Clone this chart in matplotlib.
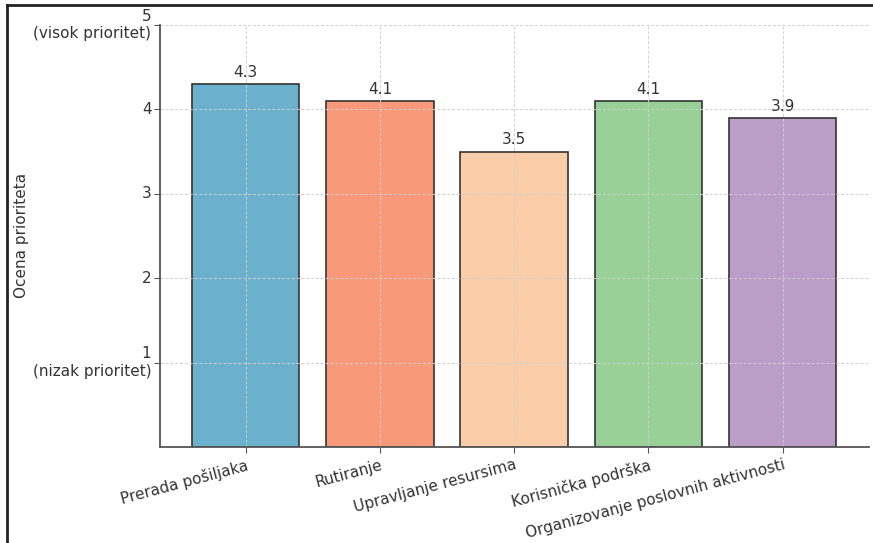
import matplotlib.pyplot as plt
from matplotlib.lines import Line2D

categories = ['Prerada pošiljaka', 'Rutiranje', 'Upravljanje resursima',
              'Korisnička podrška', 'Organizovanje poslovnih aktivnosti']
scores = [4.3, 4.1, 3.5, 4.1, 3.9]
colors = ['#6bb1cd', '#f89a7a', '#fbcda9', '#98d098', '#bc9cc9']
ytick_values = [1, 2, 3, 4, 5]
ytick_labels = ['1\n(nizak prioritet)', '2', '3', '4', '5\n(visok prioritet)']

text_color = '#333333'
plt.rcParams['font.size'] = 11
plt.rcParams['text.color'] = text_color
plt.rcParams['axes.labelcolor'] = text_color
plt.rcParams['xtick.color'] = text_color
plt.rcParams['ytick.color'] = text_color

fig = plt.figure(figsize=(8.73, 5.43), dpi=100)
ax = fig.add_axes([0.183, 0.177, 0.812, 0.777])

bars = ax.bar(categories, scores, width=0.8, color=colors,
              edgecolor='#333333', linewidth=1.2, zorder=1)
for bar, val in zip(bars, scores):
    ax.text(bar.get_x() + bar.get_width() / 2, val + 0.05, f'{val}',
            ha='center', va='bottom', fontsize=11, color=text_color, zorder=3)

ax.set_ylim(0, 5)
ax.set_yticks(ytick_values)
ax.set_yticklabels(ytick_labels, ha='right', va='center', multialignment='right')
ax.set_ylabel('Ocena prioriteta', fontsize=11)
ax.yaxis.set_label_coords(-0.185, 0.5)

plt.setp(ax.get_xticklabels(), rotation=15, ha='right', rotation_mode='anchor')

ax.grid(True, linestyle=(0, (3, 2)), color='#d0d0d0', linewidth=0.7, zorder=2)
ax.set_axisbelow(False)
for s in ['top', 'right']:
    ax.spines[s].set_visible(False)
for s in ['left', 'bottom']:
    ax.spines[s].set_color('#555555')
    ax.spines[s].set_linewidth(1.3)
    ax.spines[s].set_zorder(4)
ax.tick_params(axis='both', length=4, color='#555555')
ax.tick_params(axis='y', pad=2)

# outer frame on left and top edges
fig.add_artist(Line2D([0.008, 0.008], [0, 0.99], transform=fig.transFigure,
                      color='#222222', linewidth=2))
fig.add_artist(Line2D([0.008, 1.0], [0.99, 0.99], transform=fig.transFigure,
                      color='#222222', linewidth=2))

fig.savefig('out.png', dpi=100)
